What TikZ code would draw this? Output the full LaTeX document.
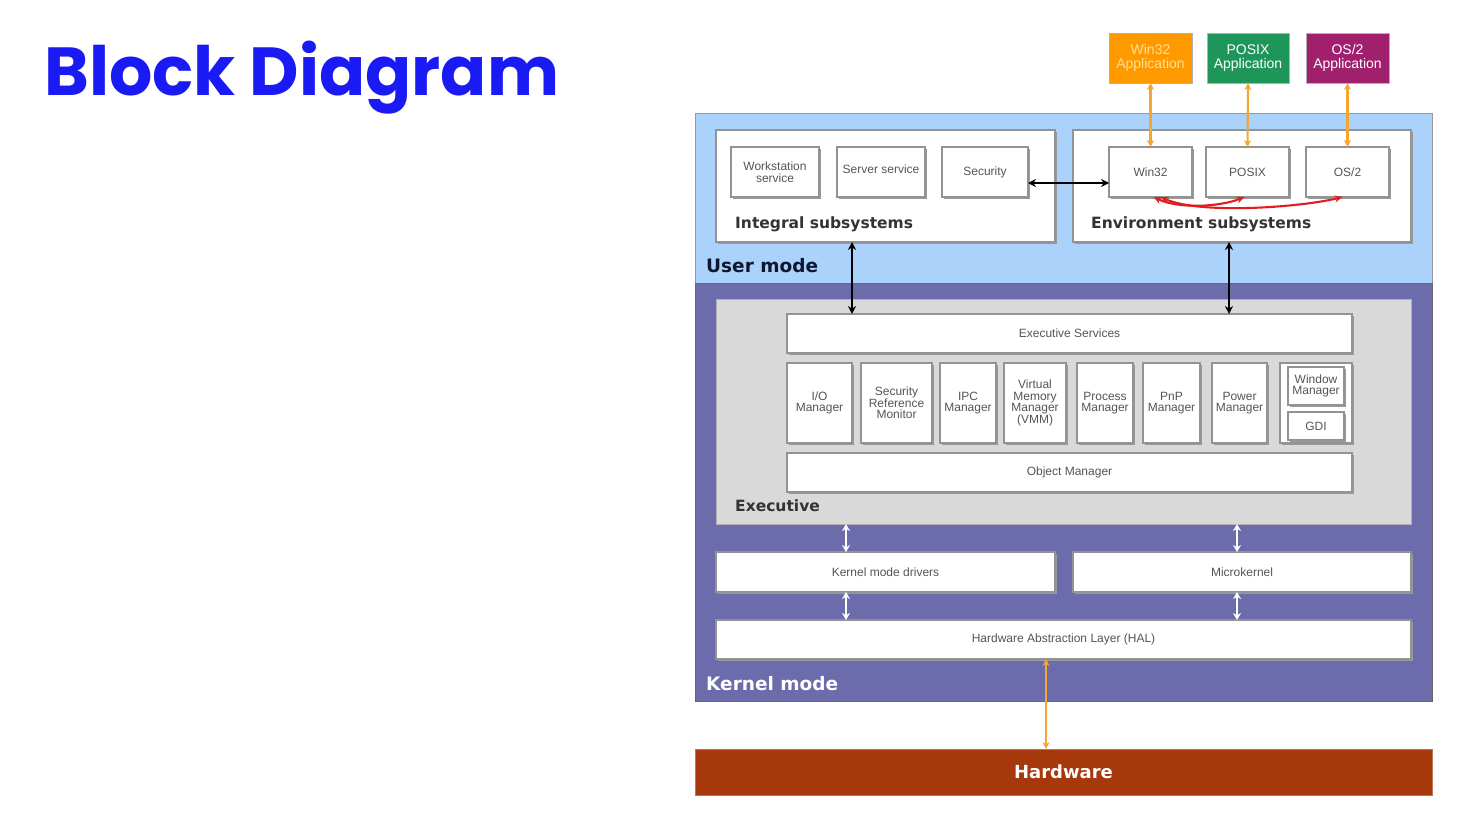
\documentclass[tikz,border=0pt]{standalone}
\usepackage{fontspec}
\setmainfont{Liberation Sans}
\newfontfamily\djv{DejaVu Sans}
\newfontfamily\pop{Poppins}
\usetikzlibrary{arrows.meta,shadows,calc}
\definecolor{umode}{RGB}{170,210,250}
\definecolor{kmode}{RGB}{108,108,172}
\definecolor{execg}{RGB}{217,217,217}
\definecolor{hwc}{RGB}{166,56,12}
\definecolor{w32app}{RGB}{255,153,0}
\definecolor{pxapp}{RGB}{30,150,90}
\definecolor{osapp}{RGB}{160,32,110}
\definecolor{titleblue}{RGB}{26,26,245}
\definecolor{orarrow}{RGB}{245,165,50}
\definecolor{txtgray}{RGB}{85,85,85}
\definecolor{navy}{RGB}{12,24,48}
\definecolor{redarr}{RGB}{225,30,30}
\begin{document}
\begin{tikzpicture}[x=1pt,y=-1pt,
  panel/.style={anchor=north west, inner sep=0pt, outer sep=0pt, line width=1pt},
  blk/.style={draw=gray!85, line width=1.1pt, fill=white, anchor=north west, inner sep=0pt, outer sep=0pt,
     align=center, font=\fontsize{12}{11.5}\selectfont, text=txtgray,
     drop shadow={shadow xshift=1.5pt, shadow yshift=-1.5pt, fill=gray!80, opacity=1}},
  app/.style={draw=gray!60, line width=0.8pt, anchor=north west, inner sep=0pt, outer sep=0pt,
     align=center, font=\fontsize{14}{14}\selectfont, text=white},
  lbl/.style={anchor=base west, inner sep=0pt, font=\djv\bfseries\fontsize{15.5}{16}\selectfont, text=black!80},
  mode/.style={anchor=base west, inner sep=0pt, font=\djv\bfseries\fontsize{18.5}{19}\selectfont},
  barr/.style={black, line width=2.4pt, {Stealth[length=8pt,width=8pt]}-{Stealth[length=8pt,width=8pt]}},
  warr/.style={white, line width=2.4pt, {Stealth[length=7pt,width=8pt]}-{Stealth[length=7pt,width=8pt]}},
  oarr/.style={orarrow, line width=2.1pt, {Stealth[length=7pt,width=7pt]}-{Stealth[length=7pt,width=7pt]}},
  rarr/.style={redarr, line width=2.1pt, {Stealth[length=8pt,width=7pt]}-{Stealth[length=8pt,width=7pt]}}
]
\useasboundingbox (0,0) rectangle (1477,827);
\fill[white] (0,0) rectangle (1477,827);

% title
\node[anchor=base west, inner sep=0pt, font=\pop\bfseries\fontsize{68}{76}\selectfont, text=titleblue] (title) at (44,95) {Block Diagram};

% mode panels
\node[panel, draw=gray!80, fill=umode, minimum width=737pt, minimum height=170pt] (um) at (695,113) {};
\node[panel, draw=gray!80!black, fill=kmode, minimum width=737pt, minimum height=418pt] (km) at (695,283) {};

% subsystems
\node[blk, minimum width=339pt, minimum height=112pt] (intg) at (716,130) {};
\node[blk, minimum width=338pt, minimum height=112pt] (env) at (1073,130) {};
\node[blk, minimum width=88pt, minimum height=50pt] (ws) at (731,147) {Workstation\\service};
\node[blk, minimum width=88pt, minimum height=50pt] (ss) at (837,147) {\raisebox{6pt}{Server service}};
\node[blk, minimum width=86pt, minimum height=50pt] (sec) at (942,147) {Security};
\node[blk, minimum width=83pt, minimum height=50pt] (w32) at (1109,147) {Win32};
\node[blk, minimum width=83pt, minimum height=50pt] (px) at (1206,147) {POSIX};
\node[blk, minimum width=83pt, minimum height=50pt] (os) at (1306,147) {OS/2};
\node[lbl] (lint) at (735,228) {Integral subsystems};
\node[lbl] (lenv) at (1091,228) {Environment subsystems};
\node[mode, text=navy] (lum) at (706,272) {User mode};

% applications
\node[app, fill=w32app, text={rgb,255:red,255;green,225;blue,150}, minimum width=83pt, minimum height=50pt] (aw) at (1109,33) {Win32\\Application};
\node[app, fill=pxapp, minimum width=82pt, minimum height=50pt] (ap) at (1207,33) {POSIX\\Application};
\node[app, fill=osapp, minimum width=83pt, minimum height=50pt] (ao) at (1306,33) {OS/2\\Application};

% executive
\node[panel, draw=gray!60, fill=execg, minimum width=695pt, minimum height=225pt] (ex) at (716,299) {};
\node[blk, minimum width=565pt, minimum height=39pt] (es) at (787,314) {Executive Services};
\node[blk, minimum width=65pt, minimum height=80pt] (io) at (787,363) {I/O\\Manager};
\node[blk, minimum width=71pt, minimum height=80pt] (srm) at (861,363) {Security\\Reference\\Monitor};
\node[blk, minimum width=56pt, minimum height=80pt] (ipc) at (940,363) {IPC\\Manager};
\node[blk, minimum width=62pt, minimum height=80pt] (vmm) at (1004,363) {Virtual\\Memory\\Manager\\(VMM)};
\node[blk, minimum width=56pt, minimum height=80pt] (pm) at (1077,363) {Process\\Manager};
\node[blk, minimum width=57pt, minimum height=80pt] (pnp) at (1143,363) {PnP\\Manager};
\node[blk, minimum width=55pt, minimum height=80pt] (pow) at (1212,363) {Power\\Manager};
\node[blk, minimum width=72pt, minimum height=80pt] (wc) at (1280,363) {};
\node[blk, minimum width=56pt, minimum height=38pt] (wm) at (1288,367) {Window\\Manager};
\node[blk, minimum width=56pt, minimum height=28pt] (gdi) at (1288,412) {GDI};
\node[blk, minimum width=565pt, minimum height=39pt] (om) at (787,453) {Object Manager};
\node[lbl] (lex) at (735,511) {Executive};

% kernel
\node[blk, minimum width=339pt, minimum height=40pt] (kmd) at (716,552) {Kernel mode drivers};
\node[blk, minimum width=338pt, minimum height=40pt] (mk) at (1073,552) {Microkernel};
\node[blk, minimum width=695pt, minimum height=39pt] (hal) at (716,620) {Hardware Abstraction Layer (HAL)};
\node[mode, text=white] (lkm) at (706,690) {Kernel mode};

% hardware
\node[panel, draw=hwc!70!white, fill=hwc, minimum width=737pt, minimum height=46pt,
      font=\djv\bfseries\fontsize{18}{19}\selectfont, text=white] (hw) at (695,749) {Hardware};

% connector columns
\coordinate (c1) at (852,0);
\coordinate (c2) at (1229,0);
\coordinate (c3) at (846,0);
\coordinate (c4) at (1237,0);
\coordinate (c5) at (1046,0);

% connectors
\draw[oarr] (aw.south) -- (w32.north);
\draw[oarr] (ap.south) -- (px.north);
\draw[oarr] (ao.south) -- (os.north);
\draw[barr] ([yshift=-11pt]sec.east) -- ([yshift=-11pt]w32.west);
\draw[rarr] ([xshift=3pt]w32.south) .. controls +(25,12) and +(-25,10) .. ([xshift=-3pt]px.south);
\draw[rarr] ([xshift=10pt]w32.south) .. controls +(40,18) and +(-40,10) .. ([xshift=-5pt]os.south);
\draw[barr] (intg.south -| c1) -- (es.north -| c1);
\draw[barr] (env.south -| c2) -- (es.north -| c2);
\draw[warr] (ex.south -| c3) -- (kmd.north -| c3);
\draw[warr] (ex.south -| c4) -- (mk.north -| c4);
\draw[warr] (kmd.south -| c3) -- (hal.north -| c3);
\draw[warr] (mk.south -| c4) -- (hal.north -| c4);
\draw[oarr] (hal.south -| c5) -- (hw.north -| c5);
\end{tikzpicture}
\end{document}
